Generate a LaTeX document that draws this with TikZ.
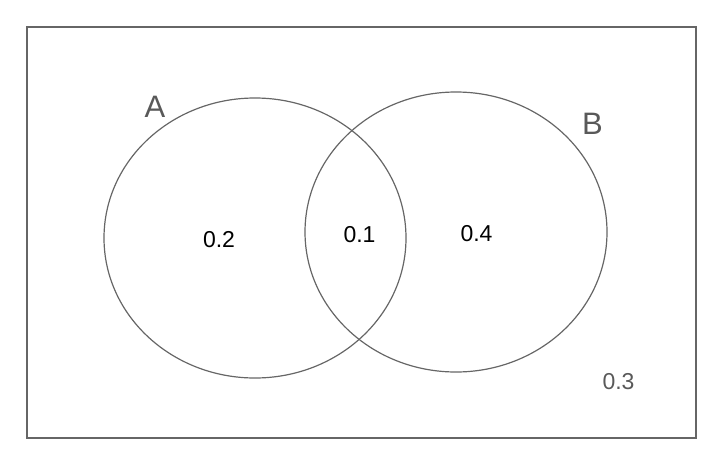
\documentclass[tikz,border=0pt]{standalone}
\usepackage{fontspec}
\setmainfont{Liberation Sans}
\usetikzlibrary{shapes.geometric}
\definecolor{linegray}{HTML}{666666}
\definecolor{textgray}{HTML}{595959}
\begin{document}
\begin{tikzpicture}[x=1pt,y=-1pt,
  setcircle/.style={ellipse, draw=linegray, line width=1.2pt, minimum width=302pt, minimum height=280pt, inner sep=0pt},
  setlabel/.style={anchor=base, inner sep=0pt, text=textgray, font=\fontsize{31}{31}\selectfont},
  prob/.style={anchor=base, inner sep=0pt, text=black, font=\fontsize{23}{23}\selectfont},
  outerprob/.style={prob, text=textgray}]
\useasboundingbox (0,0) rectangle (727,455);
\node[draw=linegray, line width=2pt, minimum width=669pt, minimum height=411pt, inner sep=0pt, anchor=north west] (U) at (26,26) {};
\node[setcircle] (A) at (255,238) {};
\node[setcircle] (B) at (456,232) {};
\node[setlabel] (la) at (155,117) {A};
\node[setlabel] (lb) at (592.5,134) {B};
\node[prob] (pa) at (219,247) {0.2};
\node[prob] (pab) at (359.5,242) {0.1};
\node[prob] (pb) at (476.5,241) {0.4};
\node[outerprob] (pn) at (618.5,389) {0.3};
\end{tikzpicture}
\end{document}
